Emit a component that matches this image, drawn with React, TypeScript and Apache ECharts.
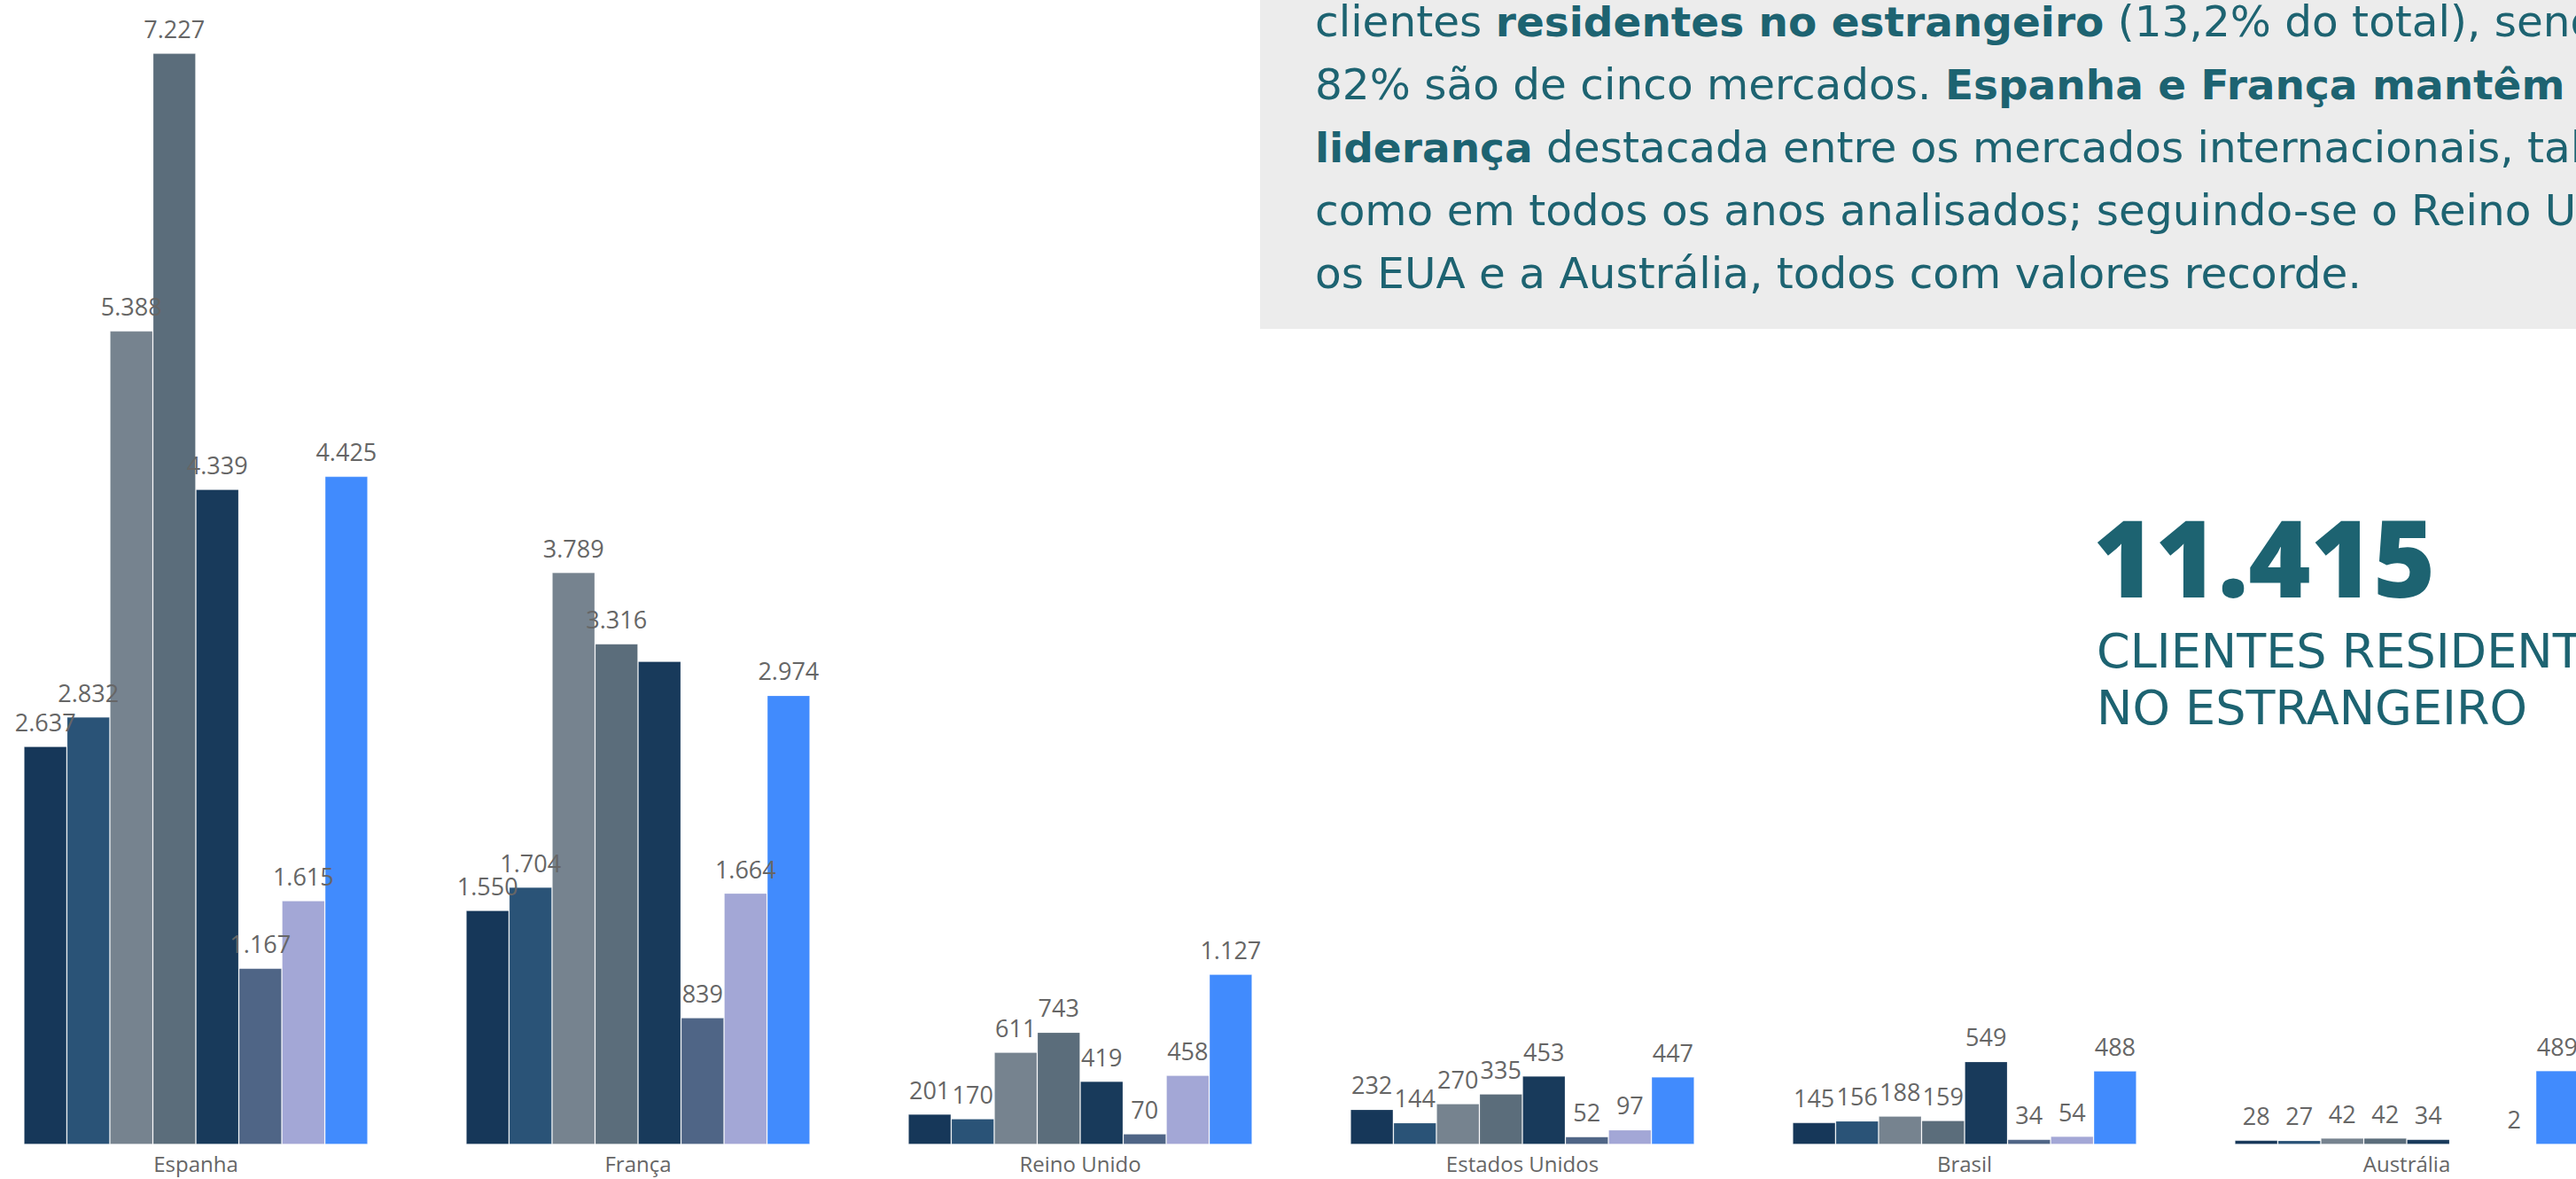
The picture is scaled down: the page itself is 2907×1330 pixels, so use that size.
import React, { useEffect, useRef } from "react";
import * as echarts from "echarts";

const categories = ["Espanha", "França", "Reino Unido", "Estados Unidos", "Brasil", "Austrália"];

const serie1 = [2637, 1550, 201, 232, 145, 28];
const serie2 = [2832, 1704, 170, 144, 156, 27];
const serie3 = [5388, 3789, 611, 270, 188, 42];
const serie4 = [7227, 3316, 743, 335, 159, 42];
const serie5 = [4339, 3200, 419, 453, 549, 34];
const serie6 = [1167, 839, 70, 52, 34, null];
const serie7 = [1615, 1664, 458, 97, 54, 2];
const serie8 = [4425, 2974, 1127, 447, 488, 489];

const seriesValues = [serie1, serie2, serie3, serie4, serie5, serie6, serie7, serie8];
const seriesNames = ["Série 1", "Série 2", "Série 3", "Série 4", "Série 5", "Série 6", "Série 7", "Série 8"];
const seriesColors = ["#163759", "#2a5377", "#76838f", "#5b6d7b", "#183a5b", "#4f6586", "#a3a7d6", "#418bfd"];
// labels hidden in the original (overlap): [seriesIndex, categoryIndex]
const hiddenLabels: [number, number][] = [[4, 1]];

const paragraphLines = [
  [["n", "clientes "], ["b", "residentes no estrangeiro"], ["n", " (13,2% do total), sendo que"]],
  [["n", "82% são de cinco mercados. "], ["b", "Espanha e França mantêm a"]],
  [["b", "liderança"], ["n", " destacada entre os mercados internacionais, tal"]],
  [["n", "como em todos os anos analisados; seguindo-se o Reino Unido,"]],
  [["n", "os EUA e a Austrália, todos com valores recorde."]],
];
const kpiValue = "11.415";
const kpiLines = ["CLIENTES RESIDENTES", "NO ESTRANGEIRO"];

const fmt = (v: number) => String(v).replace(/\B(?=(\d{3})+(?!\d))/g, ".");

export default function App() {
  const ref = useRef<HTMLDivElement>(null);
  useEffect(() => {
    if (!ref.current) return;
    const chart = echarts.init(ref.current, null, { renderer: "svg" });
    const teal = "#1d6371";
    const pFont = "DejaVu Sans";
    const pSize = 48.5;
    const baselines = [41, 112, 183, 254, 325];

    const graphics: any[] = [
      {
        type: "rect",
        z: 100,
        shape: { x: 1422, y: 0, width: 1490, height: 371 },
        style: { fill: "#ececec" },
      },
    ];
    paragraphLines.forEach((line, i) => {
      graphics.push({
        type: "text",
        z: 101,
        x: 1484,
        y: baselines[i] - 0.345 * pSize,
        style: {
          text: line.map(([k, t]) => `{${k}|${t}}`).join(""),
          verticalAlign: "middle",
          align: "left",
          rich: {
            n: { fontFamily: pFont, fontSize: pSize, fill: teal, fontWeight: "normal" },
            b: { fontFamily: pFont, fontSize: pSize - 1.5, fill: teal, fontWeight: "bold" },
          },
        },
      });
    });
    graphics.push({
      type: "text",
      z: 101,
      x: 2362,
      y: 674 - 0.388 * 120,
      style: {
        text: kpiValue,
        fontFamily: "Open Sans",
        fontWeight: 800,
        fontSize: 120,
        fill: teal,
        verticalAlign: "middle",
        align: "left",
      },
    });
    kpiLines.forEach((t, i) => {
      graphics.push({
        type: "text",
        z: 101,
        x: 2366,
        y: [753, 817][i] - 0.345 * 54,
        style: {
          text: t,
          fontFamily: pFont,
          fontSize: 54,
          fill: teal,
          verticalAlign: "middle",
          align: "left",
        },
      });
    });

    const series = seriesValues.map((vals, si) => ({
      name: seriesNames[si],
      type: "bar",
      barGap: "0%",
      barCategoryGap: "22.2%",
      itemStyle: {
        color: seriesColors[si],
        borderColor: "rgba(255,255,255,0.22)",
        borderWidth: 1,
      },
      label: {
        show: true,
        position: "top",
        distance: 14,
        fontFamily: "Open Sans",
        fontSize: 27,
        color: "#666666",
        formatter: (p: any) => fmt(p.value),
      },
      data: vals.map((v, ci) =>
        hiddenLabels.some(([s, c]) => s === si && c === ci)
          ? { value: v, label: { show: false } }
          : v
      ),
    }));

    chart.setOption({
      animation: false,
      backgroundColor: "#ffffff",
      grid: {
        left: -28.5,
        top: 0,
        width: 2994,
        height: 1291,
        containLabel: false,
        outerBoundsMode: "none",
      },
      xAxis: {
        type: "category",
        data: categories,
        axisLine: { show: false },
        axisTick: { show: false },
        axisLabel: {
          fontFamily: "Open Sans",
          fontSize: 24,
          color: "#666666",
          margin: 9,
          interval: 0,
        },
      },
      yAxis: {
        type: "value",
        min: 0,
        max: 7580,
        show: false,
        splitLine: { show: false },
      },
      series,
      graphic: graphics,
    });
    return () => chart.dispose();
  }, []);
  return (
    <div
      ref={ref}
      style={{ position: "fixed", left: 0, top: 0, width: 2907, height: 1330, background: "#fff" }}
    />
  );
}
